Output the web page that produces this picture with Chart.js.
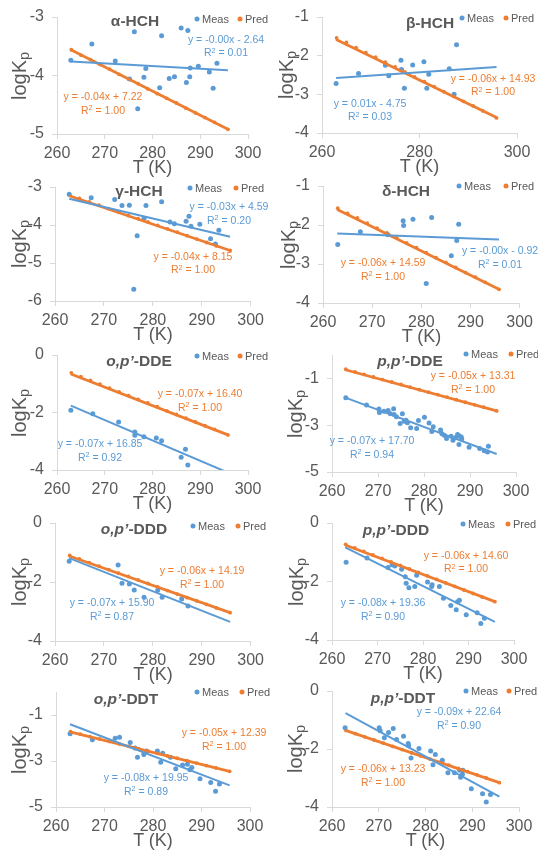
<!DOCTYPE html>
<html>
<head>
<meta charset="utf-8">
<script src="https://cdn.jsdelivr.net/npm/chart.js"></script>
<style>
  body { margin: 0; background: #fff; font-family: "Liberation Sans", Arial, sans-serif; }
  #page { position: relative; width: 538px; height: 850px; overflow: hidden; }
  canvas { position: absolute; }
  .t { position: absolute; white-space: nowrap; transform: translate(-50%, -50%); }
  .title { font-weight: bold; font-size: 15.5px; color: #595959; }
  .eq { font-size: 10.5px; line-height: 13.5px; text-align: center; }
  .sup { font-size: 0.7em; position: relative; top: -0.45em; }
  .axt { font-size: 18px; color: #595959; }
  .ylab { font-size: 20px; color: #595959; transform: translate(-50%, -50%) rotate(-90deg); }
  .ylab sub { font-size: 0.72em; vertical-align: -0.25em; }
  .leg { position: absolute; font-size: 11px; color: #595959; white-space: nowrap; transform: translateY(-50%); }
  .dot { position: absolute; width: 5px; height: 5px; border-radius: 50%; transform: translate(-50%, -50%); }
</style>
</head>
<body>
<div id="page"></div>
<script>
const BLUE = '#5B9BD5';
const ORANGE = '#ED7D31';

// shared x values
const fitT = [262.9, 295.8];
const predT = [263, 265, 267, 269, 271, 273, 275, 277, 279, 281, 283, 285, 287, 289, 291, 293, 295.8];
const xTicks10 = [260, 270, 280, 290, 300];
const xTicks20 = [260, 280, 300];

// α-HCH
const alphaMeas = [[262.9,-3.74],[267.3,-3.46],[272.2,-3.75],[275.2,-4.06],[276.2,-3.25],[276.9,-4.57],[278.2,-4.03],[278.6,-3.88],
  [281.5,-4.21],[281.9,-3.32],[283.5,-4.05],[284.6,-4.02],[286.0,-3.19],[287.1,-4.12],[287.4,-3.23],[287.8,-4.02],[287.9,-3.87],
  [289.6,-3.84],[291.9,-3.94],[292.7,-4.22],[293.5,-3.79]];
const alphaPred = [-3.56,-3.65,-3.73,-3.81,-3.89,-3.98,-4.06,-4.14,-4.23,-4.31,-4.39,-4.47,-4.56,-4.64,-4.72,-4.80,-4.92];
const alphaFitMeas = [-3.76, -3.91];
const alphaFitPred = [-3.56, -4.92];

// β-HCH
const betaMeas = [[262.9,-2.72],[267.5,-2.46],[273.0,-2.25],[273.7,-2.52],[276.2,-2.12],[276.3,-2.36],[276.9,-2.84],[278.6,-2.24],
  [280.9,-2.16],[281.5,-2.84],[281.9,-2.48],[286.1,-2.34],[287.1,-3.00],[287.6,-1.72]];
const betaPred = [-1.54,-1.66,-1.79,-1.92,-2.04,-2.17,-2.29,-2.42,-2.55,-2.67,-2.80,-2.93,-3.05,-3.18,-3.30,-3.43,-3.61];
const betaFitMeas = [-2.58, -2.29];
const betaFitPred = [-1.58, -3.60];

// γ-HCH
const gammaMeas = [[262.9,-3.19],[267.4,-3.28],[272.2,-3.33],[273.7,-3.49],[275.2,-3.48],[276.1,-5.69],[276.8,-4.28],[278.2,-3.83],
  [278.6,-3.49],[281.8,-3.39],[283.5,-3.92],[284.4,-3.97],[286.8,-3.90],[287.4,-3.77],[287.8,-4.03],[289.6,-3.98],[291.8,-4.36],
  [292.8,-4.50],[293.5,-4.14]];
const gammaPred = [-3.21,-3.30,-3.39,-3.48,-3.57,-3.66,-3.75,-3.83,-3.92,-4.01,-4.10,-4.19,-4.28,-4.37,-4.46,-4.55,-4.67];
const gammaFitMeas = [-3.31, -4.31];
const gammaFitPred = [-3.23, -4.67];

// δ-HCH
const deltaMeas = [[263.0,-2.50],[267.6,-2.17],[273.2,-2.25],[276.3,-1.89],[276.4,-2.01],[278.3,-1.85],[281.0,-3.50],[282.1,-1.81],
  [286.1,-2.79],[287.2,-2.40],[287.6,-1.98]];
const deltaPred = [-1.57,-1.70,-1.82,-1.95,-2.08,-2.20,-2.33,-2.46,-2.58,-2.71,-2.84,-2.96,-3.09,-3.22,-3.34,-3.47,-3.65];
const deltaFitMeas = [-2.22, -2.37];
const deltaFitPred = [-1.60, -3.65];

// o,p'-DDE
const opDdeMeas = [[262.9,-1.92],[267.5,-2.04],[272.9,-2.33],[276.3,-2.68],[276.3,-2.79],[278.2,-2.84],[280.8,-2.89],[281.9,-2.98],
  [286.0,-3.56],[286.9,-3.28],[287.4,-3.83]];
const opDdePred = [-0.62,-0.75,-0.88,-1.01,-1.15,-1.28,-1.41,-1.54,-1.67,-1.80,-1.94,-2.07,-2.20,-2.33,-2.46,-2.59,-2.78];
const opDdeFitMeas = [-1.76, -4.09];
const opDdeFitPred = [-0.66, -2.78];

// p,p'-DDE
const ppDdeMeas = [[263.0,-1.83],[267.5,-2.14],[270.2,-2.31],[270.3,-2.46],[271.3,-2.40],[272.2,-2.37],[272.7,-2.51],[273.4,-2.30],
  [273.5,-2.54],[274.0,-2.64],[274.8,-2.93],[275.3,-2.51],[275.7,-2.83],[276.1,-2.79],[276.4,-2.89],[277.1,-3.11],[278.4,-3.14],
  [278.8,-2.80],[280.1,-2.66],[281.1,-2.91],[281.7,-3.27],[282.0,-3.07],[283.6,-3.21],[283.9,-3.37],[284.4,-3.43],[284.9,-3.57],
  [285.9,-3.47],[286.3,-3.64],[286.9,-3.53],[287.3,-3.40],[287.6,-3.83],[287.7,-3.46],[288.1,-3.50],[288.2,-3.59],[289.8,-3.94],
  [292.1,-4.00],[293.1,-4.09],[293.8,-4.14],[294.0,-3.90]];
const ppDdePred = [-0.61,-0.72,-0.83,-0.94,-1.05,-1.15,-1.26,-1.37,-1.48,-1.59,-1.69,-1.80,-1.91,-2.02,-2.13,-2.23,-2.39];
const ppDdeFitMeas = [-1.82, -4.23];
const ppDdeFitPred = [-0.63, -2.39];

// o,p'-DDD
const opDddMeas = [[262.9,-1.30],[272.9,-1.42],[273.7,-2.04],[275.2,-2.07],[276.2,-2.27],[278.2,-2.52],[281.0,-2.28],[281.9,-2.52],
  [285.9,-2.58],[287.2,-2.81]];
const opDddPred = [-1.10,-1.22,-1.34,-1.46,-1.58,-1.70,-1.81,-1.93,-2.05,-2.17,-2.29,-2.41,-2.53,-2.64,-2.76,-2.88,-3.04];
const opDddFitMeas = [-1.19, -3.35];
const opDddFitPred = [-1.12, -3.04];

// p,p'-DDD
const ppDddMeas = [[263.1,-1.34],[267.7,-1.20],[272.3,-1.52],[273.2,-1.43],[273.8,-1.47],[275.3,-1.58],[276.1,-1.84],[276.3,-2.06],
  [276.9,-2.21],[278.2,-2.17],[278.6,-1.79],[281.0,-2.02],[281.9,-2.17],[282.0,-2.11],[283.6,-2.17],[284.5,-2.57],[286.1,-2.82],
  [287.3,-2.97],[287.6,-2.69],[288.0,-2.64],[289.5,-3.14],[291.9,-3.07],[292.7,-3.44],[293.5,-3.26]];
const ppDddPred = [-0.73,-0.85,-0.97,-1.09,-1.21,-1.33,-1.45,-1.57,-1.69,-1.81,-1.93,-2.05,-2.17,-2.29,-2.41,-2.53,-2.69];
const ppDddFitMeas = [-0.83, -3.38];
const ppDddFitPred = [-0.75, -2.69];

// o,p'-DDT
const opDdtMeas = [[262.9,-1.82],[267.5,-2.08],[272.2,-2.01],[273.1,-1.97],[275.3,-2.20],[276.3,-2.44],[276.8,-2.84],[278.1,-2.72],
  [278.6,-2.56],[280.9,-2.56],[281.6,-3.05],[282.0,-2.66],[283.6,-2.84],[284.7,-3.34],[286.1,-3.17],[287.1,-3.14],[287.6,-3.38],
  [288.0,-3.28],[289.7,-3.77],[291.9,-3.93],[292.9,-4.32],[293.7,-4.00]];
const opDdtPred = [-1.72,-1.83,-1.94,-2.04,-2.15,-2.25,-2.36,-2.46,-2.57,-2.67,-2.78,-2.88,-2.99,-3.09,-3.20,-3.30,-3.45];
const opDdtFitMeas = [-1.40, -4.06];
const opDdtFitPred = [-1.73, -3.45];

// p,p'-DDT
const ppDdtMeas = [[262.8,-1.27],[270.1,-1.27],[270.3,-1.37],[271.2,-1.61],[272.1,-1.43],[273.1,-1.29],[273.8,-1.67],[275.3,-1.56],
  [276.3,-1.81],[276.4,-1.89],[276.9,-2.31],[278.6,-1.98],[281.1,-2.07],[281.6,-2.54],[282.1,-2.19],[283.6,-2.39],[284.8,-2.82],
  [286.2,-2.82],[287.3,-2.73],[287.5,-2.97],[287.9,-2.87],[288.0,-2.73],[289.8,-3.37],[292.2,-3.54],[293.0,-3.83],[293.9,-3.57]];
const ppDdtPred = [-1.36,-1.47,-1.58,-1.69,-1.80,-1.91,-2.02,-2.13,-2.24,-2.35,-2.46,-2.56,-2.67,-2.78,-2.89,-3.00,-3.16];
const ppDdtFitMeas = [-0.76, -3.64];
const ppDdtFitPred = [-1.36, -3.16];

// layout of the ten panels (page coordinates)
const panels = [
  { title: 'α-HCH', x0: 0, plot: [57, 17, 248, 134], y: [-5, -3], yTicks: [-5, -4, -3], xTicks: xTicks10,
    meas: alphaMeas, pred: alphaPred, fitMeas: alphaFitMeas, fitPred: alphaFitPred,
    titleAt: [135, 21], legY: 19, measDot: 197, predDot: 240, yLabX: 20,
    eqMeas: ['y = -0.00x - 2.64', '0.01', 226, 46.5], eqPred: ['y = -0.04x + 7.22', '1.00', 103, 104] },
  { title: 'β-HCH', x0: 269, plot: [322, 17, 517, 133], y: [-4, -1], yTicks: [-4, -3, -2, -1], xTicks: xTicks20,
    meas: betaMeas, pred: betaPred, fitMeas: betaFitMeas, fitPred: betaFitPred,
    titleAt: [430, 23], legY: 18, measDot: 462, predDot: 506, yLabX: 287,
    eqMeas: ['y = 0.01x - 4.75', '0.03', 370, 110.5], eqPred: ['y = -0.06x + 14.93', '1.00', 493, 85.5] },
  { title: 'γ-HCH', x0: 0, plot: [55, 187, 251, 301], y: [-6, -3], yTicks: [-6, -5, -4, -3], xTicks: xTicks10,
    meas: gammaMeas, pred: gammaPred, fitMeas: gammaFitMeas, fitPred: gammaFitPred,
    titleAt: [139, 191], legY: 188, measDot: 190, predDot: 236, yLabX: 20,
    eqMeas: ['y = -0.03x + 4.59', '0.20', 229, 214], eqPred: ['y = -0.04x + 8.15', '1.00', 193, 263.5] },
  { title: 'δ-HCH', x0: 269, plot: [323, 186, 520, 303], y: [-4, -1], yTicks: [-4, -3, -2, -1], xTicks: xTicks10,
    meas: deltaMeas, pred: deltaPred, fitMeas: deltaFitMeas, fitPred: deltaFitPred,
    titleAt: [406, 191], legY: 186, measDot: 459, predDot: 506, yLabX: 289,
    eqMeas: ['y = -0.00x - 0.92', '0.01', 500, 258], eqPred: ['y = -0.06x + 14.59', '1.00', 383, 270] },
  { title: '<i>o,p’</i>-DDE', x0: 0, plot: [57, 355, 248, 470], y: [-4, 0], yTicks: [-4, -2, 0], xTicks: xTicks10,
    meas: opDdeMeas, pred: opDdePred, fitMeas: opDdeFitMeas, fitPred: opDdeFitPred,
    titleAt: [139, 361], legY: 356, measDot: 197, predDot: 240, yLabX: 20,
    eqMeas: ['y = -0.07x + 16.85', '0.92', 100, 451], eqPred: ['y = -0.07x + 16.40', '1.00', 200, 401] },
  { title: '<i>p,p’</i>-DDE', x0: 269, plot: [332, 355, 516, 472], y: [-5, 0], yTicks: [-5, -3, -1], xTicks: xTicks10,
    meas: ppDdeMeas, pred: ppDdePred, fitMeas: ppDdeFitMeas, fitPred: ppDdeFitPred,
    titleAt: [410, 361], legY: 354, measDot: 466, predDot: 511, yLabX: 296,
    eqMeas: ['y = -0.07x + 17.70', '0.94', 372, 448], eqPred: ['y = -0.05x + 13.31', '1.00', 473, 383] },
  { title: '<i>o,p’</i>-DDD', x0: 0, plot: [55, 523, 251, 641], y: [-4, 0], yTicks: [-4, -2, 0], xTicks: xTicks10,
    meas: opDddMeas, pred: opDddPred, fitMeas: opDddFitMeas, fitPred: opDddFitPred,
    titleAt: [134, 529], legY: 526, measDot: 193, predDot: 238, yLabX: 20,
    eqMeas: ['y = -0.07x + 15.90', '0.87', 112, 610], eqPred: ['y = -0.06x + 14.19', '1.00', 202, 578] },
  { title: '<i>p,p’</i>-DDD', x0: 269, plot: [332, 523, 514, 640], y: [-4, 0], yTicks: [-4, -2, 0], xTicks: xTicks10,
    meas: ppDddMeas, pred: ppDddPred, fitMeas: ppDddFitMeas, fitPred: ppDddFitPred,
    titleAt: [396, 530], legY: 524, measDot: 463, predDot: 508, yLabX: 297,
    eqMeas: ['y = -0.08x + 19.36', '0.90', 383, 610], eqPred: ['y = -0.06x + 14.60', '1.00', 466, 562.5] },
  { title: '<i>o,p’</i>-DDT', x0: 0, plot: [56, 692, 250, 807], y: [-5, 0], yTicks: [-5, -3, -1], xTicks: xTicks10,
    meas: opDdtMeas, pred: opDdtPred, fitMeas: opDdtFitMeas, fitPred: opDdtFitPred,
    titleAt: [126, 699], legY: 692, measDot: 197, predDot: 242, yLabX: 20,
    eqMeas: ['y = -0.08x + 19.95', '0.89', 146, 785], eqPred: ['y = -0.05x + 12.39', '1.00', 224, 740] },
  { title: '<i>p,p’</i>-DDT', x0: 269, plot: [332, 691, 519, 807], y: [-4, 0], yTicks: [-4, -2, 0], xTicks: xTicks10,
    meas: ppDdtMeas, pred: ppDdtPred, fitMeas: ppDdtFitMeas, fitPred: ppDdtFitPred,
    titleAt: [403, 698], legY: 691, measDot: 466, predDot: 509, yLabX: 296,
    eqMeas: ['y = -0.09x + 22.64', '0.90', 459, 719], eqPred: ['y = -0.06x + 13.23', '1.00', 383, 776] }
];

const page = document.getElementById('page');

function addText(html, cls, x, y, color) {
  const d = document.createElement('div');
  d.className = cls;
  d.innerHTML = html;
  d.style.left = x + 'px';
  d.style.top = y + 'px';
  if (color) d.style.color = color;
  page.appendChild(d);
  return d;
}

function addLegendItem(label, color, dotX, y) {
  const dot = document.createElement('div');
  dot.className = 'dot';
  dot.style.background = color;
  dot.style.left = dotX + 'px';
  dot.style.top = y + 'px';
  page.appendChild(dot);
  const txt = document.createElement('div');
  txt.className = 'leg';
  txt.textContent = label;
  txt.style.left = (dotX + 5) + 'px';
  txt.style.top = y + 'px';
  page.appendChild(txt);
}

function axisStyle() {
  return {
    border: { color: '#D9D9D9', width: 1 },
    grid: { drawOnChartArea: false, color: '#D9D9D9', tickLength: 5 },
  };
}

function buildPanel(p) {
  const W = 269, padTop = 22, xAxisH = 30;
  const [pl, pt, pr, pb] = p.plot;
  const h = (pb - pt) + padTop + xAxisH;

  const cv = document.createElement('canvas');
  cv.width = W;
  cv.height = h;
  cv.style.left = p.x0 + 'px';
  cv.style.top = (pt - padTop) + 'px';
  page.appendChild(cv);

  const tickFont = { family: 'Liberation Sans', size: 16 };

  new Chart(cv, {
    type: 'scatter',
    data: {
      datasets: [
        { data: fitT.map((t, i) => ({ x: t, y: p.fitMeas[i] })), showLine: true, borderColor: BLUE, borderWidth: 2, pointRadius: 0 },
        { data: fitT.map((t, i) => ({ x: t, y: p.fitPred[i] })), showLine: true, borderColor: ORANGE, borderWidth: 2.8, pointRadius: 0 },
        { data: p.meas.map(([t, v]) => ({ x: t, y: v })), backgroundColor: BLUE, borderWidth: 0, pointRadius: 2.5 },
        { data: predT.map((t, i) => ({ x: t, y: p.pred[i] })), backgroundColor: ORANGE, borderWidth: 0, pointRadius: 1.9 }
      ]
    },
    options: {
      responsive: false,
      animation: false,
      layout: { padding: { top: padTop, left: 0, bottom: 0, right: p.x0 + W - pr } },
      plugins: { legend: { display: false }, tooltip: { enabled: false } },
      scales: {
        x: {
          type: 'linear', min: 260, max: 300,
          ...axisStyle(),
          ticks: { color: '#595959', font: tickFont, padding: 5, maxRotation: 0, callback: v => String(v) },
          afterBuildTicks: s => { s.ticks = p.xTicks.map(v => ({ value: v })); },
          afterFit: s => { s.height = xAxisH; }
        },
        y: {
          type: 'linear', min: p.y[0], max: p.y[1],
          ...axisStyle(),
          ticks: { color: '#595959', font: tickFont, padding: 8, callback: v => String(v) },
          afterBuildTicks: s => { s.ticks = p.yTicks.map(v => ({ value: v })); },
          afterFit: s => { s.width = pl - p.x0; }
        }
      }
    }
  });

  addText(p.title, 't title', p.titleAt[0], p.titleAt[1]);
  addLegendItem('Meas', BLUE, p.measDot, p.legY);
  addLegendItem('Pred', ORANGE, p.predDot, p.legY);
  addText(`${p.eqMeas[0]}<br>R<span class="sup">2</span> = ${p.eqMeas[1]}`, 't eq', p.eqMeas[2], p.eqMeas[3], BLUE);
  addText(`${p.eqPred[0]}<br>R<span class="sup">2</span> = ${p.eqPred[1]}`, 't eq', p.eqPred[2], p.eqPred[3], ORANGE);
  addText('logK<sub>p</sub>', 't ylab', p.yLabX, (pt + pb) / 2);
  addText('T (K)', 't axt', (pl + pr) / 2, pb + 33);
}

panels.forEach(buildPanel);
</script>
</body>
</html>
